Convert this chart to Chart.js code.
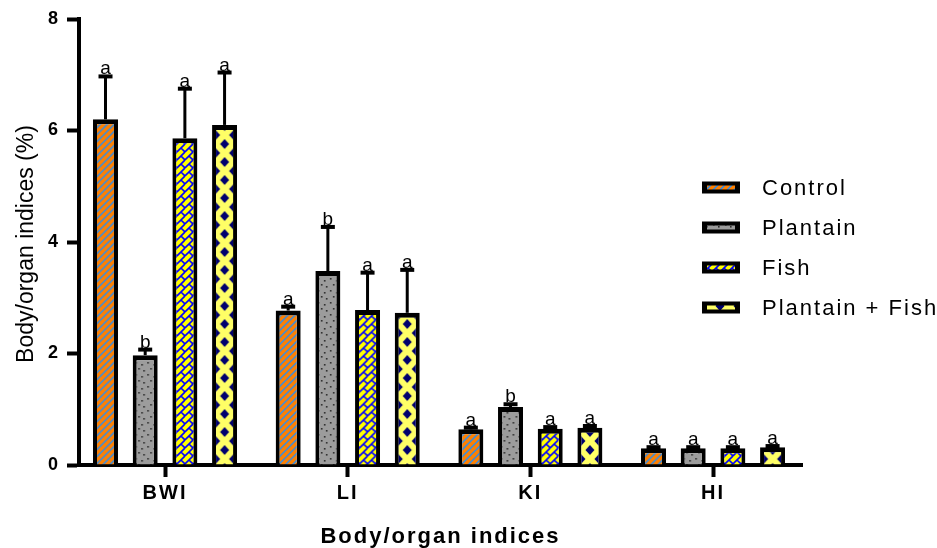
<!DOCTYPE html>
<html><head><meta charset="utf-8">
<script src="https://cdn.jsdelivr.net/npm/chart.js@4/dist/chart.umd.min.js"></script>
<style>html,body{margin:0;padding:0;background:#fff;overflow:hidden}</style>
</head><body>
<canvas id="c" width="937" height="548"></canvas>
<script>
// ---------- data ----------
const categories = ['BWI', 'LI', 'KI', 'HI'];
const seriesNames = ['Control', 'Plantain', 'Fish', 'Plantain + Fish'];
const controlMean  = [6.20, 2.77, 0.64, 0.30];
const controlSEM   = [0.77, 0.07, 0.03, 0.02];
const plantainMean = [1.97, 3.48, 1.04, 0.30];
const plantainSEM  = [0.10, 0.79, 0.05, 0.02];
const fishMean     = [5.86, 2.78, 0.65, 0.30];
const fishSEM      = [0.89, 0.67, 0.03, 0.02];
const comboMean    = [6.10, 2.73, 0.67, 0.32];
const comboSEM     = [0.94, 0.77, 0.03, 0.02];
const controlLetters  = ['a', 'a', 'a', 'a'];
const plantainLetters = ['b', 'b', 'b', 'a'];
const fishLetters     = ['a', 'a', 'a', 'a'];
const comboLetters    = ['a', 'a', 'a', 'a'];
const yTickValues = [0, 2, 4, 6, 8];
const xAxisTitle = 'Body/organ indices';
const yAxisTitle = 'Body/organ indices (%)';

const CAT_PCT = 0.869;
const BAR_PCT = 0.63;
const FONT = "'Liberation Sans', Arial, sans-serif";

// ---------- pattern tiles ----------
function tile(w, h, draw) {
  const c = document.createElement('canvas');
  c.width = w; c.height = h;
  draw(c.getContext('2d'), w, h);
  return c;
}
const tiles = [
  tile(7, 7, (g, w, h) => { // Control: orange with blue diagonal stripes
    g.fillStyle = '#FF8000'; g.fillRect(0, 0, w, h);
    g.strokeStyle = '#1E8FFF'; g.lineWidth = 1.4;
    g.beginPath();
    g.moveTo(-1, h + 1); g.lineTo(w + 1, -1);
    g.moveTo(-w / 2 - 1, h / 2 + 1); g.lineTo(w / 2 + 1, -h / 2 - 1);
    g.moveTo(w / 2 - 1, h * 1.5 + 1); g.lineTo(w * 1.5 + 1, h / 2 - 1);
    g.stroke();
  }),
  tile(12, 12, (g, w, h) => { // Plantain: grey with dark dots
    g.fillStyle = '#9C9C9C'; g.fillRect(0, 0, w, h);
    g.fillStyle = '#2E2E2E';
    [[2, 2], [8, 4], [5, 8], [10, 10]].forEach(([x, y]) => g.fillRect(x, y, 1.6, 1.6));
  }),
  tile(8, 8, (g, w, h) => { // Fish: yellow with blue brick lattice
    g.fillStyle = '#FFFF00'; g.fillRect(0, 0, w, h);
    g.strokeStyle = '#0000FF'; g.lineWidth = 1.6;
    g.beginPath();
    g.moveTo(-1, h + 1); g.lineTo(w + 1, -1);
    g.moveTo(w / 2, h / 2); g.lineTo(w + 1, h + 1);
    g.moveTo(-1, -1); g.lineTo(0.5, 0.5);
    g.stroke();
  }),
  tile(18, 18, (g, w, h) => { // Plantain + Fish: light yellow with navy diamonds
    g.fillStyle = '#FFFF66'; g.fillRect(0, 0, w, h);
    g.fillStyle = '#00006E';
    const dia = (cx, cy) => {
      g.beginPath();
      g.moveTo(cx, cy - 5); g.lineTo(cx + 4.5, cy); g.lineTo(cx, cy + 5); g.lineTo(cx - 4.5, cy);
      g.closePath(); g.fill();
    };
    [[0, 0], [w, 0], [0, h], [w, h], [w / 2, h / 2]].forEach(([x, y]) => dia(x, y));
  })
];

function barFill(k) {
  return (c) => {
    const p = c.chart.ctx.createPattern(tiles[k], 'repeat');
    const xs = c.chart.scales && c.chart.scales.x;
    if (c.type === 'data' && xs && xs.width > 0) {
      const unit = xs.getPixelForValue(1) - xs.getPixelForValue(0);
      const step = unit * CAT_PCT / 4;
      const bx = xs.getPixelForValue(c.dataIndex) + (c.datasetIndex - 1.5) * step;
      p.setTransform(new DOMMatrix().translate(bx, 0));
    }
    return p;
  };
}

const means = [controlMean, plantainMean, fishMean, comboMean];
const sems = [controlSEM, plantainSEM, fishSEM, comboSEM];
const letters = [controlLetters, plantainLetters, fishLetters, comboLetters];

const datasets = seriesNames.map((name, k) => ({
  label: name,
  data: means[k].map((v, i) => ({ x: i, y: v })),
  backgroundColor: barFill(k),
  borderColor: '#000',
  borderWidth: { top: 5, left: 4, right: 4, bottom: 0 },
  borderSkipped: 'start',
  categoryPercentage: CAT_PCT,
  barPercentage: BAR_PCT
}));

// ---------- plugins ----------
const spacingPlugin = {
  id: 'spacing',
  beforeLayout(chart) { chart.ctx.letterSpacing = '2px'; },
  beforeDraw(chart) { chart.ctx.letterSpacing = '2px'; }
};

const errorPlugin = {
  id: 'errorBars',
  afterDatasetsDraw(chart) {
    const ctx = chart.ctx, ys = chart.scales.y;
    ctx.save();
    ctx.letterSpacing = '0px';
    ctx.strokeStyle = '#000'; ctx.fillStyle = '#000';
    chart.data.datasets.forEach((ds, k) => {
      const meta = chart.getDatasetMeta(k);
      meta.data.forEach((bar, i) => {
        const top = ys.getPixelForValue(means[k][i] + sems[k][i]);
        ctx.lineWidth = 3;
        ctx.beginPath(); ctx.moveTo(bar.x, bar.y); ctx.lineTo(bar.x, top); ctx.stroke();
        ctx.lineWidth = 4;
        ctx.beginPath(); ctx.moveTo(bar.x - 7, top); ctx.lineTo(bar.x + 7, top); ctx.stroke();
        ctx.font = '19px ' + FONT;
        ctx.textAlign = 'center'; ctx.textBaseline = 'alphabetic';
        ctx.fillText(letters[k][i], bar.x, top - 2);
      });
    });
    ctx.restore();
  }
};

const legendPlugin = {
  id: 'customLegend',
  afterDraw(chart) {
    const ctx = chart.ctx, ca = chart.chartArea;
    const x0 = ca.right - 100;
    const y0 = (ca.top + ca.bottom) / 2 + 5.5 - 1.5 * 40;
    ctx.save();
    seriesNames.forEach((name, k) => {
      const y = y0 + k * 40;
      ctx.fillStyle = '#000';
      ctx.fillRect(x0, y - 6, 38, 12);
      ctx.fillStyle = ctx.createPattern(tiles[k], 'repeat');
      ctx.fillRect(x0 + 5, y - 2, 28, 4);
      ctx.fillStyle = '#000';
      ctx.font = '22px ' + FONT;
      ctx.letterSpacing = '2px';
      ctx.textAlign = 'left'; ctx.textBaseline = 'middle';
      ctx.fillText(name, x0 + 60, y + 1);
    });
    // y axis title
    ctx.letterSpacing = '0px';
    ctx.translate(27, (ca.top + ca.bottom) / 2 + 2);
    ctx.rotate(-Math.PI / 2);
    ctx.font = '23px ' + FONT;
    ctx.textAlign = 'center'; ctx.textBaseline = 'middle';
    ctx.fillText(yAxisTitle, 0, 0);
    ctx.restore();
  }
};

// ---------- chart ----------
new Chart(document.getElementById('c'), {
  type: 'bar',
  data: { datasets },
  options: {
    responsive: false,
    devicePixelRatio: 1,
    animation: false,
    layout: { padding: { top: 19, right: 135, left: 0, bottom: 0 } },
    plugins: { legend: { display: false }, tooltip: { enabled: false } },
    scales: {
      x: {
        type: 'linear',
        min: -0.471, max: 3.487,
        offset: false,
        afterBuildTicks: (s) => { s.ticks = categories.map((_, i) => ({ value: i })); },
        afterFit: (s) => { s.height = 83; },
        ticks: {
          callback: (v) => categories[v],
          color: '#000',
          font: { family: FONT, size: 20, weight: 'bold' },
          padding: 4,
          autoSkip: false,
          maxRotation: 0
        },
        grid: { display: true, drawOnChartArea: false, drawTicks: true, tickLength: 12, tickWidth: 4, tickColor: '#000', offset: false },
        border: { display: true, color: '#000', width: 4 },
        title: {
          display: true, text: xAxisTitle, color: '#000',
          font: { family: FONT, size: 22, weight: 'bold', lineHeight: 1 },
          padding: { top: 0, bottom: 0 }
        }
      },
      y: {
        min: 0, max: 8,
        afterBuildTicks: (s) => { s.ticks = yTickValues.map(v => ({ value: v })); },
        afterFit: (s) => { s.width = 79; },
        ticks: { color: '#000', font: { family: FONT, size: 18, weight: 'bold' }, padding: 7 },
        grid: { display: true, drawOnChartArea: false, drawTicks: true, tickLength: 12, tickWidth: 4, tickColor: '#000' },
        border: { display: true, color: '#000', width: 4 },
        title: { display: false }
      }
    }
  },
  plugins: [spacingPlugin, errorPlugin, legendPlugin]
});
</script>
</body></html>
